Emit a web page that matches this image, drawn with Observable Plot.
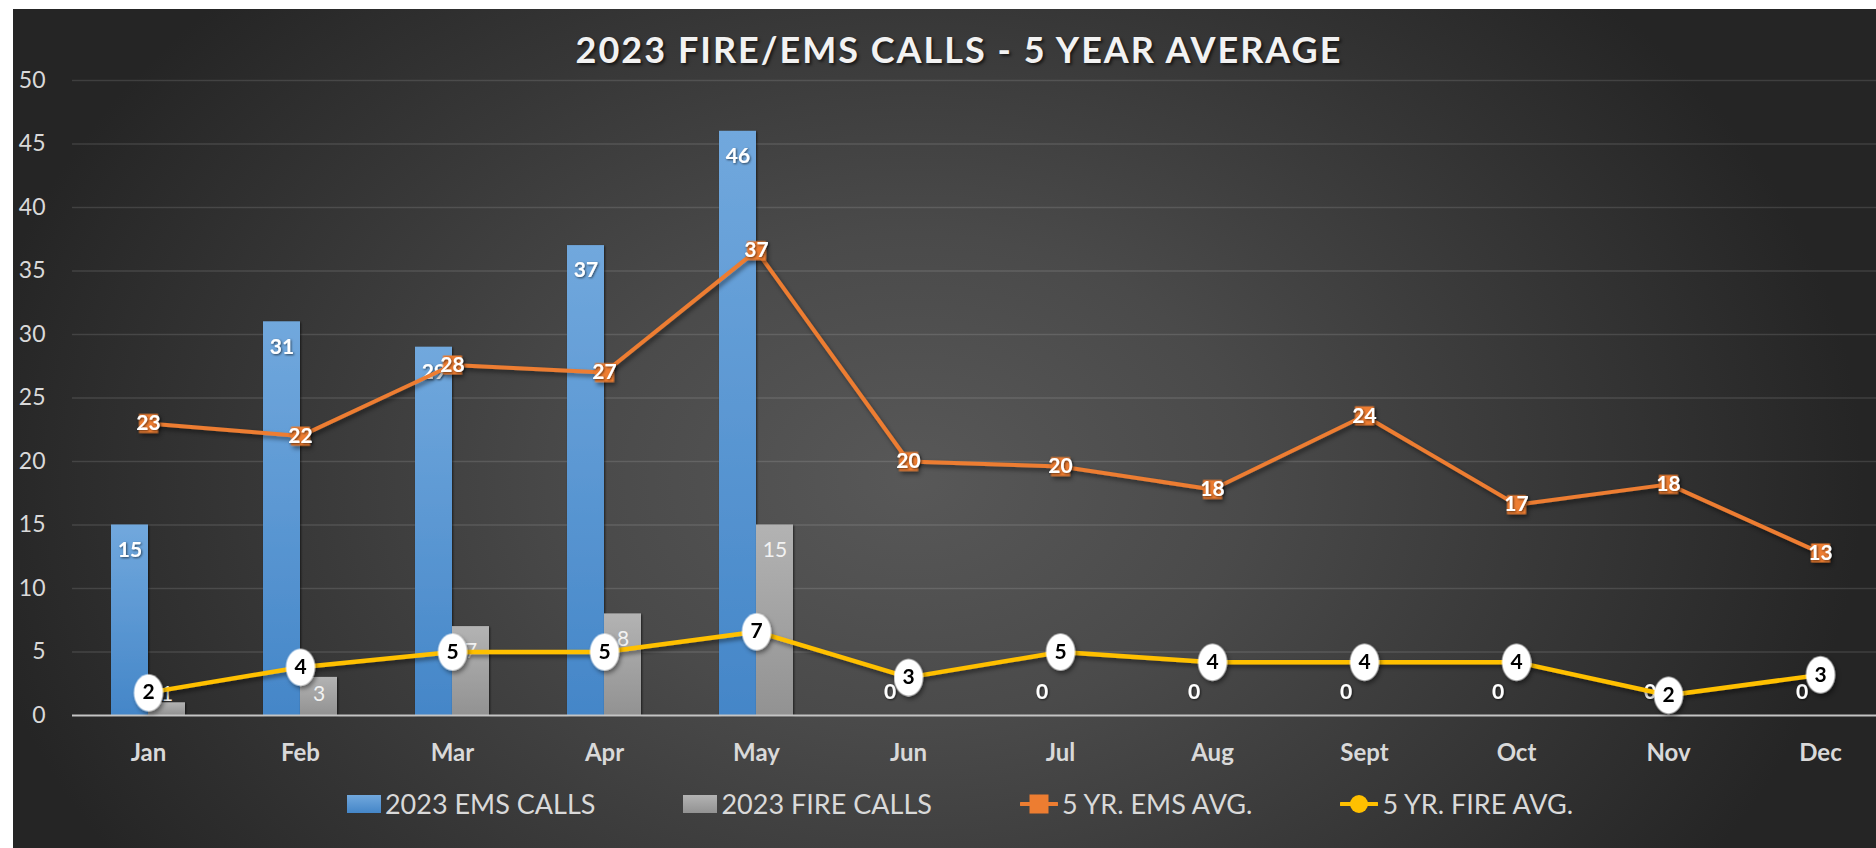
<!DOCTYPE html>
<html>
<head>
<meta charset="utf-8">
<script src="https://cdn.jsdelivr.net/npm/d3@7"></script>
<script src="https://cdn.jsdelivr.net/npm/@observablehq/plot@0.6"></script>
<style>
  html, body { margin: 0; padding: 0; background: #ffffff; width: 1876px; height: 848px; overflow: hidden; font-family: Lato, "Open Sans", sans-serif; }
  #wrap { position: relative; width: 1876px; height: 848px; }
  #bg { position: absolute; left: 13px; top: 9px; width: 1863px; height: 839px;
        background: radial-gradient(ellipse 950px 700px at 900px 470px, #585858 0%, #4a4a4a 35%, #363636 70%, #252525 100%); }
  #chart { position: absolute; left: 0; top: 0; }
  #title { position: absolute; left: 0; top: 31px; width: 1918px; text-align: center; font: bold 36px/36px Lato, sans-serif;
           color: #f2f2f2; letter-spacing: 2px; text-shadow: 2px 2px 3px rgba(0,0,0,0.6); }
  #legend { position: absolute; left: 0; top: 791px; width: 1876px; padding-left: 44px; box-sizing: border-box;
            display: flex; justify-content: center; align-items: center; gap: 88px;
            font: 27px/26px Lato, sans-serif; color: #d9d9d9; }
  .item { display: flex; align-items: center; gap: 4px; }
  .sw { width: 34px; height: 18px; }
</style>
</head>
<body>
<div id="wrap">
  <div id="bg"></div>
  <div id="chart"></div>
  <div id="title">2023 FIRE/EMS CALLS - 5 YEAR AVERAGE</div>
  <div id="legend"></div>
</div>
<script>
// ---- data ----
const months = ["Jan", "Feb", "Mar", "Apr", "May", "Jun", "Jul", "Aug", "Sept", "Oct", "Nov", "Dec"];
const emsCalls = [15, 31, 29, 37, 46, 0, 0, 0, 0, 0, 0, 0];
const fireCalls = [1, 3, 7, 8, 15, null, null, null, null, null, null, null];
const emsAvg = [23.0, 22.0, 27.6, 27.0, 36.6, 20.0, 19.6, 17.8, 23.6, 16.6, 18.2, 12.8];
const fireAvg = [1.8, 3.8, 5.0, 5.0, 6.6, 3.0, 5.0, 4.2, 4.2, 4.2, 1.6, 3.2];
const yTicks = [0, 5, 10, 15, 20, 25, 30, 35, 40, 45, 50];
const seriesNames = ["2023 EMS CALLS", "2023 FIRE CALLS", "5 YR. EMS AVG.", "5 YR. FIRE AVG."];

const rows = months.map((m, i) => ({month: m, ems: emsCalls[i], fire: fireCalls[i], emsAvg: emsAvg[i], fireAvg: fireAvg[i]}));
const fireRows = rows.filter(d => d.fire != null);

const ellipse = {
  draw(ctx) {
    const rx = 14.5, ry = 18.5, k = 0.5523;
    ctx.moveTo(rx, 0);
    ctx.bezierCurveTo(rx, ry * k, rx * k, ry, 0, ry);
    ctx.bezierCurveTo(-rx * k, ry, -rx, ry * k, -rx, 0);
    ctx.bezierCurveTo(-rx, -ry * k, -rx * k, -ry, 0, -ry);
    ctx.bezierCurveTo(rx * k, -ry, rx, -ry * k, rx, 0);
    ctx.closePath();
  }
};

const svg = Plot.plot({
  width: 1876,
  height: 848,
  marginLeft: 72,
  marginRight: 0,
  marginTop: 80,
  marginBottom: 133,
  style: {background: "transparent", fontFamily: "Lato, sans-serif", color: "#d9d9d9", overflow: "visible"},
  x: {domain: months, range: [72, 1896], paddingInner: 0.513, paddingOuter: 0.2565, label: null},
  y: {domain: [0, 50], label: null},
  marks: [
    Plot.ruleY(yTicks.filter(d => d > 0), {stroke: "#ffffff", strokeOpacity: 0.12, strokeWidth: 1.5}),
    Plot.axisY(yTicks, {anchor: "left", tickSize: 0, tickPadding: 27, fontSize: 23, label: null}),
    Plot.axisX({tickSize: 0, tickPadding: 28, fontSize: 24, fontWeight: "bold", label: null}),
    Plot.barY(rows, {x: "month", y: "ems", fill: "url(#gBlue)", insetRight: 37}),
    Plot.barY(fireRows, {x: "month", y: "fire", fill: "url(#gGray)", insetLeft: 37}),
    Plot.ruleY([0], {stroke: "#c4c4c4", strokeWidth: 2}),
    Plot.text(rows.filter(d => d.ems >= 4), {x: "month", y: "ems", text: d => String(d.ems), dx: -18.5, dy: 25, fill: "#ffffff", fontWeight: "bold", fontSize: 21}),
    Plot.text(rows.filter(d => d.ems < 4), {x: "month", y: d => 0, text: d => String(d.ems), dx: -18.5, dy: -23, fill: "#ffffff", fontWeight: "bold", fontSize: 21}),
    Plot.text(fireRows.filter(d => d.fire >= 4), {x: "month", y: "fire", text: d => String(d.fire), dx: 18.5, dy: 25, fill: "#f2f2f2", fontSize: 21}),
    Plot.text(fireRows.filter(d => d.fire < 4), {x: "month", y: d => 0, text: d => String(d.fire), dx: 18.5, dy: -21, fill: "#f2f2f2", fontSize: 21}),
    Plot.line(rows, {x: "month", y: "emsAvg", stroke: "#ED7D31", strokeWidth: 4}),
    Plot.dot(rows, {x: "month", y: "emsAvg", symbol: "square", r: 10.7, fill: "#ED7D31", stroke: "none"}),
    Plot.text(rows, {x: "month", y: "emsAvg", text: d => String(Math.round(d.emsAvg)), fill: "#ffffff", fontWeight: "bold", fontSize: 21}),
    Plot.line(rows, {x: "month", y: "fireAvg", stroke: "#FFC000", strokeWidth: 4.5}),
    Plot.dot(rows, {x: "month", y: "fireAvg", symbol: ellipse, r: 10, fill: "#ffffff", stroke: "none"}),
    Plot.text(rows, {x: "month", y: "fireAvg", text: d => String(Math.round(d.fireAvg)), fill: "#000000", fontWeight: "bold", fontSize: 21})
  ]
});

const sel = d3.select(svg);
const defs = sel.insert("defs", ":first-child");
const g1 = defs.append("linearGradient").attr("id", "gBlue").attr("x1", 0).attr("y1", 0).attr("x2", 0).attr("y2", 1);
g1.append("stop").attr("offset", 0).attr("stop-color", "#71A8DD");
g1.append("stop").attr("offset", 1).attr("stop-color", "#4486C8");
const g2 = defs.append("linearGradient").attr("id", "gGray").attr("x1", 0).attr("y1", 0).attr("x2", 0).attr("y2", 1);
g2.append("stop").attr("offset", 0).attr("stop-color", "#B3B3B3");
g2.append("stop").attr("offset", 1).attr("stop-color", "#929292");
const f = defs.append("filter").attr("id", "shadow").attr("x", "-20%").attr("y", "-20%").attr("width", "140%").attr("height", "160%");
f.append("feDropShadow").attr("dx", 2).attr("dy", 3).attr("stdDeviation", 2).attr("flood-color", "#000").attr("flood-opacity", 0.45);
const f2 = defs.append("filter").attr("id", "tshadow").attr("x", "-20%").attr("y", "-20%").attr("width", "140%").attr("height", "160%");
f2.append("feDropShadow").attr("dx", 1).attr("dy", 1).attr("stdDeviation", 1).attr("flood-color", "#000").attr("flood-opacity", 0.6);

sel.selectAll('g[aria-label="line"]').attr("filter", "url(#shadow)");
sel.selectAll('g[aria-label="dot"]').attr("filter", "url(#shadow)");
sel.selectAll('g[aria-label="bar"]').attr("filter", "url(#tshadow)");
const texts = sel.selectAll('g[aria-label="text"]').nodes();
[0, 1, 4].forEach(i => texts[i] && texts[i].setAttribute("filter", "url(#tshadow)"));
sel.selectAll('g[aria-label="x-axis tick label"]').attr("font-weight", "bold").attr("fill", "#d9d9d9");
sel.selectAll('g[aria-label="y-axis tick label"]').attr("fill", "#d9d9d9");

document.getElementById("chart").appendChild(svg);

// legend
const swatches = [
  `<div class="sw" style="background:linear-gradient(#71A8DD,#4486C8)"></div>`,
  `<div class="sw" style="background:linear-gradient(#B3B3B3,#929292)"></div>`,
  `<svg width="38" height="20"><line x1="1" y1="10" x2="37" y2="10" stroke="#ED7D31" stroke-width="4" stroke-linecap="round"/><rect x="9.5" y="0.5" width="19" height="19" fill="#ED7D31"/></svg>`,
  `<svg width="38" height="20"><line x1="1" y1="10" x2="37" y2="10" stroke="#FFC000" stroke-width="4" stroke-linecap="round"/><circle cx="19" cy="10" r="9" fill="#FFC000"/></svg>`
];
document.getElementById("legend").innerHTML = seriesNames.map((n, i) =>
  `<div class="item">${swatches[i]}<span>${n}</span></div>`).join("");
</script>
</body>
</html>
